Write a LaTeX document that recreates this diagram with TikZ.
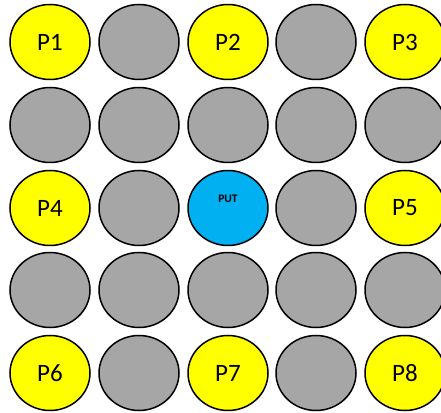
\documentclass[tikz,border=0pt]{standalone}
\usepackage{fontspec}
\setmainfont{Carlito}
\usetikzlibrary{shapes.geometric}

\begin{document}
\begin{tikzpicture}[x=1pt, y=1pt,
    pin/.style={ellipse, draw=black, line width=1.5pt, minimum width=80pt, minimum height=75pt, inner sep=0pt, font=\fontsize{25}{30}\selectfont},
    probe/.style={pin, fill={rgb,255:red,255;green,255;blue,0}},
    idle/.style={pin, fill={rgb,255:red,166;green,166;blue,166}},
    dut/.style={pin, fill={rgb,255:red,0;green,176;blue,240}}]
  \useasboundingbox (0,0) rectangle (441,412);

  % row 1
  \node[probe] (p1) at (50, 370) {P1};
  \node[idle]  (g12) at (139, 370) {};
  \node[probe] (p2) at (228, 370) {P2};
  \node[idle]  (g14) at (316, 370) {};
  \node[probe] (p3) at (405, 370) {P3};
  % row 2
  \node[idle] (g21) at (50, 287) {};
  \node[idle] (g22) at (139, 287) {};
  \node[idle] (g23) at (228, 287) {};
  \node[idle] (g24) at (316, 287) {};
  \node[idle] (g25) at (405, 287) {};
  % row 3
  \node[probe] (p4) at (50, 204) {P4};
  \node[idle]  (g32) at (139, 204) {};
  \node[dut]   (put) at (228, 204) {};
  \node[font=\fontsize{11.5}{13}\selectfont\bfseries] (putlabel) at (228, 213) {PUT};
  \node[idle]  (g34) at (316, 204) {};
  \node[probe] (p5) at (405, 204) {P5};
  % row 4
  \node[idle] (g41) at (50, 122) {};
  \node[idle] (g42) at (139, 122) {};
  \node[idle] (g43) at (228, 122) {};
  \node[idle] (g44) at (316, 122) {};
  \node[idle] (g45) at (405, 122) {};
  % row 5
  \node[probe] (p6) at (50, 39) {P6};
  \node[idle]  (g52) at (139, 39) {};
  \node[probe] (p7) at (228, 39) {P7};
  \node[idle]  (g54) at (316, 39) {};
  \node[probe] (p8) at (405, 39) {P8};
\end{tikzpicture}
\end{document}
